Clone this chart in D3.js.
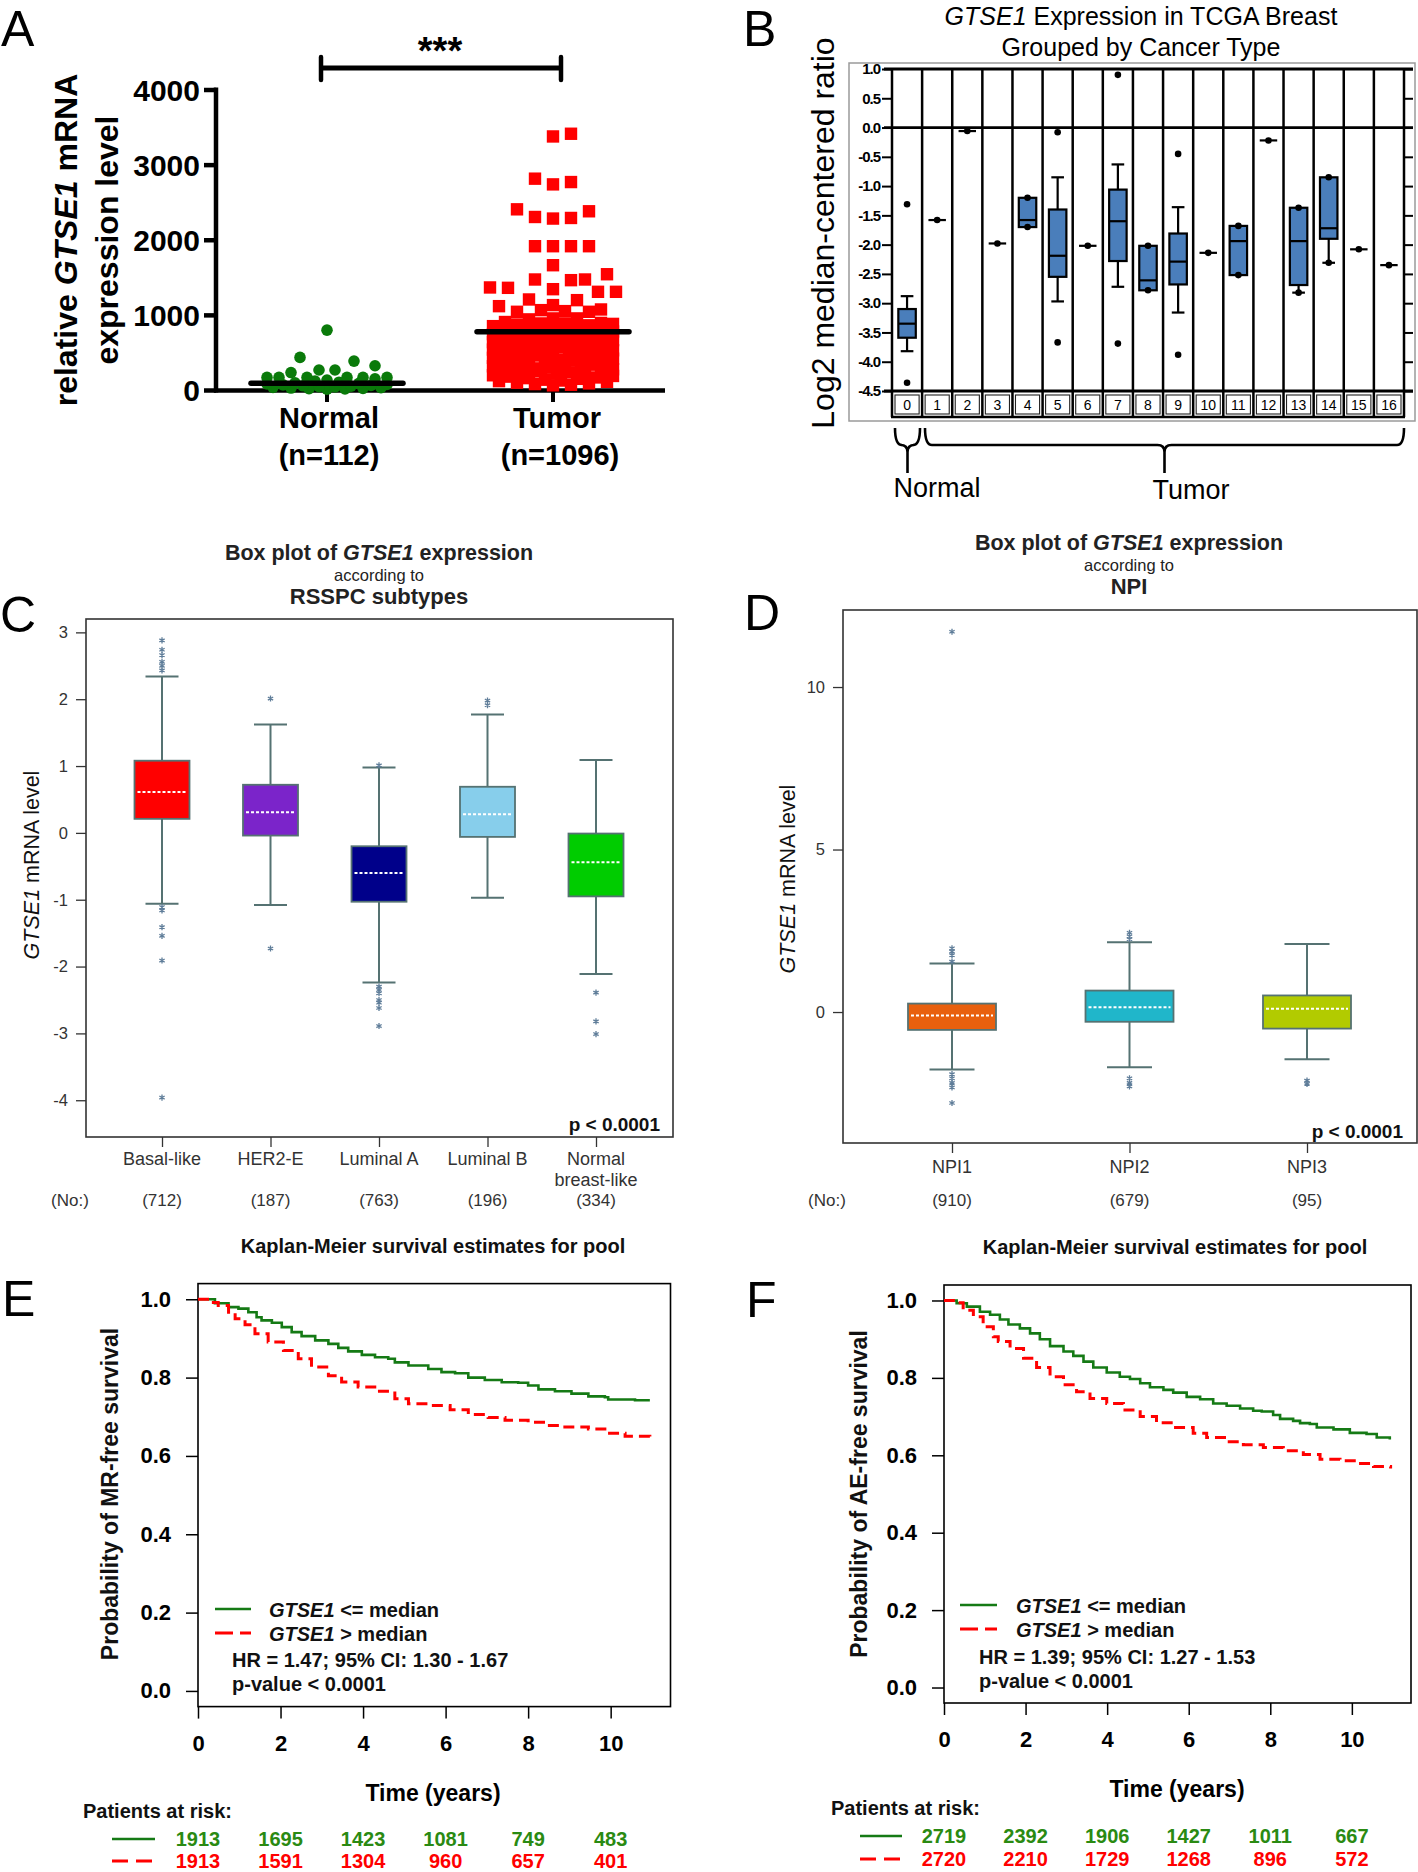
<!DOCTYPE html>
<html><head><meta charset="utf-8">
<script src="https://cdn.jsdelivr.net/npm/d3@7"></script>
<style>
body{margin:0;background:#fff}
svg{display:block}
text{font-family:"Liberation Sans", Arial, sans-serif}
</style>
</head><body>
<svg id="fig" width="1418" height="1872"></svg>
<script>
// ---------------- DATA ----------------
// Panel A
const aGroups = ["Normal", "Tumor"];
const aGroupN = ["(n=112)", "(n=1096)"];
const aTicks = [0, 1000, 2000, 3000, 4000];
const aMedians = [89, 775];
const normalValues = [797, 434, 385, 323, 266, 266, 232, 168, 168, 168, 168, 168, 168, 150, 132, 118, 104, 96, 88, 80, 74, 68, 62, 56, 50, 45, 40, 35, 30, 26, 22, 18, 14, 10];
const tumorValues = [3411, 3375, 2813, 2768, 2737, 2405, 2379, 2303, 2290, 2282, 1914, 1914, 1914, 1914, 1661, 1541, 1471, 1471, 1462, 1365, 1360, 1342, 1307, 1307, 1205, 1196, 1130, 1116, 1072, 1063, 1050, 1041, 1041, 953, 953, 940,
  905, 893, 886, 886, 880, 872, 861, 850, 842, 833, 826, 818, 805, 797, 786, 779, 768, 757, 744, 736, 725, 712, 704, 693, 688, 676, 664, 655, 648, 637, 626, 618, 606, 597, 589, 577, 568, 559, 547, 538, 529, 517, 506, 498, 489, 478, 470, 459, 447, 438, 429, 417, 405, 396, 388, 376, 367, 358, 346, 337, 328, 316, 305, 297, 288, 276, 265, 257, 248, 236, 225, 217, 208, 196, 187, 178, 167, 158, 149, 137, 126, 118, 109, 97, 88, 79, 70, 62];

// Panel B
const bCategories = ["0","1","2","3","4","5","6","7","8","9","10","11","12","13","14","15","16"];
const bTicks = [1.0, 0.5, 0.0, -0.5, -1.0, -1.5, -2.0, -2.5, -3.0, -3.5, -4.0, -4.5];
const bMin = [-3.82, -1.58, -0.06, -1.98, -1.70, -2.97, -2.02, -2.72, -2.78, -3.16, -2.14, -2.52, -0.22, -2.82, -2.31, -2.08, -2.35];
const bQ1  = [-3.59, -1.58, -0.06, -1.98, -1.70, -2.55, -2.02, -2.28, -2.78, -2.68, -2.14, -2.52, -0.22, -2.69, -1.90, -2.08, -2.35];
const bMed = [-3.35, -1.58, -0.06, -1.98, -1.58, -2.19, -2.02, -1.60, -2.61, -2.29, -2.14, -1.94, -0.22, -1.94, -1.72, -2.08, -2.35];
const bQ3  = [-3.10, -1.58, -0.06, -1.98, -1.20, -1.40, -2.02, -1.06, -2.02, -1.81, -2.14, -1.68, -0.22, -1.37, -0.85, -2.08, -2.35];
const bMax = [-2.88, -1.58, -0.06, -1.98, -1.20, -0.85, -2.02, -0.63, -2.02, -1.36, -2.14, -1.68, -0.22, -1.37, -0.85, -2.08, -2.35];
const bOutliers = [[-1.31, -4.36], [], [], [], [], [-0.08, -3.67], [], [0.90, -3.69], [], [-0.45, -3.88], [], [], [], [], [], [], []];
const bPoints = [[], [-1.58], [-0.06], [-1.98], [-1.20, -1.70], [], [-2.02], [], [-2.02, -2.78], [], [-2.14], [-1.68, -2.52], [-0.22], [-1.37, -2.82], [-0.85, -2.31], [-2.08], [-2.35]];

// Panel C
const cCategories = ["Basal-like", "HER2-E", "Luminal A", "Luminal B", "Normal breast-like"];
const cCounts = ["(712)", "(187)", "(763)", "(196)", "(334)"];
const cTicks = [-4, -3, -2, -1, 0, 1, 2, 3];
const cMin = [-1.06, -1.08, -2.24, -0.97, -2.11];
const cQ1  = [0.21, -0.04, -1.03, -0.06, -0.95];
const cMed = [0.61, 0.31, -0.60, 0.28, -0.44];
const cQ3  = [1.08, 0.72, -0.20, 0.69, -0.01];
const cMax = [2.34, 1.62, 0.98, 1.77, 1.09];
const cOutliers = [[2.88, 2.74, 2.66, 2.56, 2.50, 2.43, -1.11, -1.16, -1.41, -1.54, -1.91, -3.96], [2.01, -1.73], [1.01, -2.30, -2.35, -2.40, -2.50, -2.54, -2.62, -2.89], [1.98, 1.91], [-2.39, -2.82, -3.01]];
const cColors = ["#FF0000", "#7B24CA", "#00008A", "#87CEEB", "#00CC00"];

// Panel D
const dCategories = ["NPI1", "NPI2", "NPI3"];
const dCounts = ["(910)", "(679)", "(95)"];
const dTicks = [0, 5, 10];
const dMin = [-1.77, -1.70, -1.45];
const dQ1  = [-0.55, -0.30, -0.51];
const dMed = [-0.11, 0.15, 0.10];
const dQ3  = [0.26, 0.66, 0.51];
const dMax = [1.49, 2.15, 2.09];
const dOutliers = [[11.7, 1.96, 1.86, 1.75, 1.55, -1.91, -2.04, -2.18, -2.32, -2.80], [2.44, 2.33, 2.24, -2.04, -2.18, -2.29], [-2.11, -2.21]];
const dColors = ["#E8600E", "#20B6CA", "#B2CB00"];

// Panels E & F
const kmTicksX = [0, 2, 4, 6, 8, 10];
const kmTicksY = [0, 0.2, 0.4, 0.6, 0.8, 1.0];
const eGreenT = [0, 0.41, 0.74, 0.98, 1.22, 1.42, 1.54, 1.79, 2.03, 2.27, 2.51, 2.84, 3.16, 3.40, 3.64, 3.97, 4.29, 4.61, 4.77, 5.10, 5.58, 5.90, 6.23, 6.55, 6.95, 7.36, 7.76, 8.0, 8.25, 8.65, 9.05, 9.46, 9.86, 9.94, 10.59, 10.95];
const eGreenS = [1, 0.990, 0.980, 0.976, 0.967, 0.954, 0.946, 0.940, 0.929, 0.916, 0.906, 0.895, 0.886, 0.876, 0.867, 0.858, 0.852, 0.848, 0.839, 0.831, 0.822, 0.814, 0.811, 0.800, 0.794, 0.788, 0.787, 0.780, 0.770, 0.765, 0.759, 0.752, 0.750, 0.744, 0.742, 0.742];
const eRedT = [0, 0.33, 0.49, 0.74, 0.90, 1.14, 1.38, 1.70, 2.07, 2.43, 2.75, 3.16, 3.48, 3.88, 4.33, 4.77, 5.10, 5.66, 6.11, 6.55, 7.03, 7.44, 8.0, 8.41, 8.89, 9.46, 9.90, 10.35, 10.95];
const eRedS = [1, 0.992, 0.984, 0.967, 0.950, 0.935, 0.912, 0.891, 0.869, 0.848, 0.827, 0.805, 0.789, 0.776, 0.765, 0.746, 0.733, 0.729, 0.718, 0.706, 0.698, 0.691, 0.686, 0.678, 0.674, 0.669, 0.658, 0.650, 0.648];
const eRiskGreen = [1913, 1695, 1423, 1081, 749, 483];
const eRiskRed = [1913, 1591, 1304, 960, 657, 401];
const eStats = ["HR = 1.47; 95% CI: 1.30 - 1.67", "p-value < 0.0001"];
const fGreenT = [0, 0.31, 0.56, 0.88, 1.13, 1.37, 1.58, 1.86, 2.11, 2.35, 2.60, 2.93, 3.17, 3.42, 3.66, 3.99, 4.31, 4.56, 4.81, 5.05, 5.38, 5.62, 5.95, 6.28, 6.60, 6.93, 7.26, 7.58, 7.79, 8.07, 8.24, 8.56, 8.73, 8.97, 9.14, 9.55, 9.95, 10.36, 10.61, 10.93];
const fGreenS = [1, 0.993, 0.984, 0.971, 0.963, 0.951, 0.938, 0.928, 0.915, 0.900, 0.882, 0.868, 0.857, 0.842, 0.827, 0.814, 0.803, 0.797, 0.786, 0.776, 0.769, 0.762, 0.751, 0.745, 0.734, 0.728, 0.721, 0.715, 0.713, 0.704, 0.694, 0.689, 0.683, 0.681, 0.672, 0.667, 0.658, 0.655, 0.646, 0.641];
const fRedT = [0, 0.23, 0.47, 0.72, 0.96, 1.21, 1.33, 1.62, 1.95, 2.27, 2.60, 2.93, 3.25, 3.58, 3.99, 4.40, 4.81, 5.21, 5.62, 6.11, 6.44, 6.93, 7.34, 7.83, 8.32, 8.81, 9.22, 9.71, 10.12, 10.53, 10.95];
const fRedS = [1, 0.994, 0.975, 0.958, 0.932, 0.906, 0.894, 0.876, 0.851, 0.827, 0.803, 0.782, 0.764, 0.747, 0.734, 0.717, 0.700, 0.684, 0.672, 0.657, 0.646, 0.635, 0.627, 0.620, 0.612, 0.602, 0.590, 0.586, 0.579, 0.571, 0.566];
const fRiskGreen = [2719, 2392, 1906, 1427, 1011, 667];
const fRiskRed = [2720, 2210, 1729, 1268, 896, 572];
const fStats = ["HR = 1.39; 95% CI: 1.27 - 1.53", "p-value < 0.0001"];

// ---------------- DRAWING ----------------
const svg = d3.select("#fig");
svg.append("rect").attr("width", 1418).attr("height", 1872).attr("fill", "#fff");
const SANS = '"Liberation Sans", Arial, sans-serif';
const SERIF = '"Liberation Serif", "DejaVu Serif", serif';
const LATO = 'Lato, "Open Sans", sans-serif';

function rich(g, x, y, parts, opts) {
  const t = g.append("text").attr("x", x).attr("y", y)
    .attr("text-anchor", opts.anchor || "middle")
    .attr("font-size", opts.size).attr("font-weight", opts.weight || "normal")
    .attr("fill", opts.fill || "#000").attr("font-family", opts.family || SANS);
  if (opts.transform) t.attr("transform", opts.transform);
  if (opts.dy) t.attr("dy", opts.dy);
  parts.forEach(p => t.append("tspan").text(p[0]).attr("font-style", p[1] ? "italic" : "normal"));
  return t;
}
function label(txt, x, y) {
  svg.append("text").attr("x", x).attr("y", y).text(txt)
    .attr("font-size", 50).attr("font-family", SANS).attr("fill", "#000");
}
label("A", 1, 46); label("B", 743, 46); label("C", 0, 632); label("D", 744, 630); label("E", 2, 1316); label("F", 746, 1317);

// ===== Panel A =====
(function () {
  const g = svg.append("g");
  const y = d3.scaleLinear().domain([0, 4000]).range([390, 89.5]);
  const x = d3.scalePoint().domain(aGroups).range([327, 553]);
  const ax = g.append("g").attr("transform", "translate(216,0)")
    .call(d3.axisLeft(y).tickValues(aTicks).tickSize(12).tickPadding(4).tickFormat(d3.format("d")));
  ax.select(".domain").remove();
  ax.selectAll(".tick line").attr("stroke", "#000").attr("stroke-width", 4.5);
  ax.selectAll(".tick text").attr("font-size", 30).attr("font-weight", "bold").attr("fill", "#000").attr("font-family", SANS).attr("dy", "0.36em");
  g.append("line").attr("x1", 216).attr("x2", 216).attr("y1", 87.5).attr("y2", 392.5).attr("stroke", "#000").attr("stroke-width", 4.5);
  g.append("line").attr("x1", 214).attr("x2", 665).attr("y1", 390.5).attr("y2", 390.5).attr("stroke", "#000").attr("stroke-width", 4.5);
  aGroups.forEach(d => g.append("line").attr("x1", x(d)).attr("x2", x(d)).attr("y1", 390).attr("y2", 402).attr("stroke", "#000").attr("stroke-width", 4));

  function swarm(values, cx, half) {
    const placed = [];
    const sorted = values.slice().sort((a, b) => a - b);
    const offs = [0];
    for (let k = 9; k <= half; k += 9) offs.push(k, -k);
    const fine = [0];
    for (let k = 4; k <= half; k += 4) fine.push(k, -k);
    sorted.forEach(v => {
      const yy = y(v);
      let ch = null;
      for (const o of offs) {
        if (placed.every(p => Math.abs(p.x - (cx + o)) >= 16 || Math.abs(p.y - yy) >= 15)) { ch = o; break; }
      }
      if (ch === null) {
        let best = Infinity;
        for (const o of fine) {
          let cost = 0;
          placed.forEach(p => {
            const dx = Math.abs(p.x - (cx + o)), dy = Math.abs(p.y - yy);
            if (dx < 12 && dy < 12) cost += (12 - dx) * (12 - dy);
          });
          if (cost < best - 1e-6) { best = cost; ch = o; }
        }
      }
      placed.push({ v, x: cx + ch, y: yy });
    });
    return placed;
  }
  const np = swarm(normalValues, x("Normal"), 63);
  g.selectAll(".np").data(np).enter().append("circle").attr("cx", d => d.x).attr("cy", d => d.y).attr("r", 5.8).attr("fill", "#0A7A0A");
  const tp = swarm(tumorValues, x("Tumor"), 63);
  g.selectAll(".tp").data(tp).enter().append("rect").attr("x", d => d.x - 6.2).attr("y", d => d.y - 6.2).attr("width", 12.4).attr("height", 12.4).attr("fill", "#FF0000");
  aGroups.forEach((d, i) => {
    g.append("line").attr("x1", x(d) - 76).attr("x2", x(d) + 76).attr("y1", y(aMedians[i])).attr("y2", y(aMedians[i]))
      .attr("stroke", "#000").attr("stroke-width", 5.5).attr("stroke-linecap", "round");
    g.append("text").attr("x", x(d) + (i ? 4 : 2)).attr("y", 428).attr("text-anchor", "middle").text(d)
      .attr("font-size", 29).attr("font-weight", "bold");
    g.append("text").attr("x", x(d) + (i ? 7 : 2)).attr("y", 465).attr("text-anchor", "middle").text(aGroupN[i])
      .attr("font-size", 29).attr("font-weight", "bold");
  });
  const x1 = 321, x2 = 561;
  g.append("line").attr("x1", x1).attr("x2", x2).attr("y1", 68).attr("y2", 68).attr("stroke", "#000").attr("stroke-width", 5);
  [x1, x2].forEach(xx => g.append("line").attr("x1", xx).attr("x2", xx).attr("y1", 57).attr("y2", 80).attr("stroke", "#000").attr("stroke-width", 4.5).attr("stroke-linecap", "round"));
  g.append("text").attr("x", 440).attr("y", 64).attr("text-anchor", "middle").text("***").attr("font-size", 38).attr("font-weight", "bold");
  rich(g, 66, 240, [["relative ", false], ["GTSE1", true], [" mRNA", false]], { size: 32, weight: "bold", transform: "rotate(-90,66,240)", dy: "0.35em" });
  rich(g, 107, 240, [["expression level", false]], { size: 32, weight: "bold", transform: "rotate(-90,107,240)", dy: "0.35em" });
})();

// ===== Panel B =====
(function () {
  const g = svg.append("g");
  const y = d3.scaleLinear().domain([-4.5, 1.0]).range([391, 69]);
  const x = d3.scaleBand().domain(bCategories).range([892, 1404]);
  const bw = x.bandwidth();
  g.append("rect").attr("x", 849).attr("y", 63).attr("width", 566).attr("height", 358).attr("fill", "none").attr("stroke", "#9a9a9a").attr("stroke-width", 1.5);
  rich(g, 1141, 25, [["GTSE1", true], [" Expression in TCGA Breast", false]], { size: 25, family: LATO });
  rich(g, 1141, 56, [["Grouped by Cancer Type", false]], { size: 25, family: LATO });
  rich(g, 823, 233, [["Log2 median-centered ratio", false]], { size: 32, transform: "rotate(-90,823,233)", dy: "0.35em" });
  const ax = g.append("g").attr("transform", "translate(892,0)")
    .call(d3.axisLeft(y).tickValues(bTicks).tickSize(10).tickPadding(2).tickFormat(d => d.toFixed(1)));
  ax.select(".domain").remove();
  ax.selectAll(".tick line").attr("stroke", "#000").attr("stroke-width", 2);
  ax.selectAll(".tick text").attr("font-size", 15).attr("font-weight", "bold").attr("fill", "#000").attr("font-family", SERIF).attr("letter-spacing", "-1");
  const ax2 = g.append("g").attr("transform", "translate(1404,0)")
    .call(d3.axisRight(y).tickValues(bTicks).tickSize(9).tickFormat(""));
  ax2.select(".domain").remove();
  ax2.selectAll(".tick line").attr("stroke", "#000").attr("stroke-width", 2);
  [1.0, 0.0, -4.5].forEach(v => g.append("line").attr("x1", 884).attr("x2", 1413).attr("y1", y(v)).attr("y2", y(v)).attr("stroke", "#000").attr("stroke-width", 2.8));
  bCategories.forEach(c => {
    g.append("rect").attr("x", x(c) + 3).attr("y", 395).attr("width", bw - 6).attr("height", 19).attr("fill", "#fff").attr("stroke", "#222").attr("stroke-width", 1.1);
    g.append("text").attr("x", x(c) + bw / 2).attr("y", 410).attr("text-anchor", "middle").text(c).attr("font-size", 14).attr("font-family", SERIF);
  });
  g.append("line").attr("x1", 891).attr("x2", 1405).attr("y1", 417).attr("y2", 417).attr("stroke", "#000").attr("stroke-width", 2.5);
  for (let i = 0; i <= bCategories.length; i++) {
    const xx = 892 + i * bw;
    g.append("line").attr("x1", xx).attr("x2", xx).attr("y1", 69).attr("y2", 417).attr("stroke", "#000").attr("stroke-width", 2.5);
  }
  const boxW = bw * 0.58, capW = bw * 0.42;
  bCategories.forEach((c, i) => {
    const cx = x(c) + bw / 2;
    const ln = (x1, x2, y1, y2) => g.append("line").attr("x1", x1).attr("x2", x2).attr("y1", y1).attr("y2", y2).attr("stroke", "#000").attr("stroke-width", 2.2);
    if (bMax[i] > bQ3[i]) { ln(cx, cx, y(bMax[i]), y(bQ3[i])); ln(cx - capW / 2, cx + capW / 2, y(bMax[i]), y(bMax[i])); }
    if (bMin[i] < bQ1[i]) { ln(cx, cx, y(bQ1[i]), y(bMin[i])); ln(cx - capW / 2, cx + capW / 2, y(bMin[i]), y(bMin[i])); }
    if (bQ3[i] > bQ1[i]) {
      g.append("rect").attr("x", cx - boxW / 2).attr("y", y(bQ3[i])).attr("width", boxW).attr("height", y(bQ1[i]) - y(bQ3[i]))
        .attr("fill", "#4A7EBB").attr("stroke", "#000").attr("stroke-width", 2.2);
    }
    ln(cx - boxW / 2, cx + boxW / 2, y(bMed[i]), y(bMed[i]));
    bOutliers[i].concat(bPoints[i]).forEach(v => g.append("circle").attr("cx", cx).attr("cy", y(v)).attr("r", 3.3).attr("fill", "#000"));
  });
  function brace(x1, x2, y0, y1, y2) {
    const xm = (x1 + x2) / 2, r = 7;
    const p = `M${x1},${y0} Q${x1},${y1} ${x1 + r},${y1} L${xm - r},${y1} Q${xm},${y1} ${xm},${y1 + r} L${xm},${y2} M${xm},${y1 + r} Q${xm},${y1} ${xm + r},${y1} L${x2 - r},${y1} Q${x2},${y1} ${x2},${y0}`;
    g.append("path").attr("d", p).attr("fill", "none").attr("stroke", "#000").attr("stroke-width", 2.6);
  }
  brace(895, 920, 428, 445, 473);
  brace(925, 1404, 428, 445, 473);
  g.append("text").attr("x", 937).attr("y", 497).attr("text-anchor", "middle").text("Normal").attr("font-size", 27).attr("font-family", LATO);
  g.append("text").attr("x", 1191).attr("y", 499).attr("text-anchor", "middle").text("Tumor").attr("font-size", 27).attr("font-family", LATO);
})();

// ===== Box plots C & D =====
function boxPanel(cfg) {
  const g = svg.append("g");
  const y = d3.scaleLinear().domain(cfg.ydom).range([cfg.y1, cfg.y0]);
  const x = d3.scalePoint().domain(cfg.cats).range(cfg.xr);
  g.append("rect").attr("x", cfg.x0).attr("y", cfg.y0).attr("width", cfg.x1 - cfg.x0).attr("height", cfg.y1 - cfg.y0)
    .attr("fill", "none").attr("stroke", "#333").attr("stroke-width", 1.6);
  const ax = g.append("g").attr("transform", `translate(${cfg.x0},0)`)
    .call(d3.axisLeft(y).tickValues(cfg.ticks).tickSize(10).tickPadding(8).tickFormat(d => String(d)));
  ax.select(".domain").remove();
  ax.selectAll(".tick line").attr("stroke", "#333").attr("stroke-width", 1.3);
  ax.selectAll(".tick text").attr("font-size", 16.5).attr("fill", "#333").attr("font-family", SANS);
  const axb = g.append("g").attr("transform", `translate(0,${cfg.y1})`)
    .call(d3.axisBottom(x).tickSize(10).tickFormat(""));
  axb.select(".domain").remove();
  axb.selectAll(".tick line").attr("stroke", "#333").attr("stroke-width", 1.3);
  const wc = "#557272";
  cfg.cats.forEach((c, i) => {
    const cx = x(c);
    const ln = (x1, x2, y1, y2) => g.append("line").attr("x1", x1).attr("x2", x2).attr("y1", y1).attr("y2", y2).attr("stroke", wc).attr("stroke-width", 2);
    ln(cx, cx, y(cfg.max[i]), y(cfg.q3[i])); ln(cx, cx, y(cfg.q1[i]), y(cfg.min[i]));
    ln(cx - cfg.capW / 2, cx + cfg.capW / 2, y(cfg.max[i]), y(cfg.max[i]));
    ln(cx - cfg.capW / 2, cx + cfg.capW / 2, y(cfg.min[i]), y(cfg.min[i]));
    g.append("rect").attr("x", cx - cfg.boxW / 2).attr("y", y(cfg.q3[i])).attr("width", cfg.boxW).attr("height", y(cfg.q1[i]) - y(cfg.q3[i]))
      .attr("fill", cfg.colors[i]).attr("stroke", wc).attr("stroke-width", 1.8);
    g.append("line").attr("x1", cx - cfg.boxW / 2 + 3).attr("x2", cx + cfg.boxW / 2 - 3).attr("y1", y(cfg.med[i])).attr("y2", y(cfg.med[i]))
      .attr("stroke", "#fff").attr("stroke-width", 2).attr("stroke-dasharray", "3,2");
    cfg.out[i].forEach(v => g.append("path").attr("d", d3.symbol(d3.symbolAsterisk, 26)()).attr("transform", `translate(${cx},${y(v)})`)
      .attr("fill", "none").attr("stroke", "#5f7d99").attr("stroke-width", 1.3));
    const lab = cfg.labels[i];
    if (lab.startsWith("Normal ")) {
      g.append("text").attr("x", cx).attr("y", cfg.labY).attr("text-anchor", "middle").text("Normal").attr("font-size", 18).attr("fill", "#333");
      g.append("text").attr("x", cx).attr("y", cfg.labY + 21).attr("text-anchor", "middle").text("breast-like").attr("font-size", 18).attr("fill", "#333");
    } else {
      g.append("text").attr("x", cx).attr("y", cfg.labY).attr("text-anchor", "middle").text(lab).attr("font-size", 18).attr("fill", "#333");
    }
    g.append("text").attr("x", cx).attr("y", cfg.cntY).attr("text-anchor", "middle").text(cfg.counts[i]).attr("font-size", 17).attr("fill", "#333");
  });
  g.append("text").attr("x", cfg.noX).attr("y", cfg.cntY).attr("text-anchor", "middle").text("(No:)").attr("font-size", 17).attr("fill", "#333");
  g.append("text").attr("x", cfg.pX).attr("y", cfg.pY).attr("text-anchor", "end").text("p < 0.0001").attr("font-size", 19).attr("font-weight", "bold").attr("fill", "#111");
  rich(g, cfg.tX, cfg.tY[0], [["Box plot of ", false], ["GTSE1", true], [" expression", false]], { size: 21.5, weight: "bold", fill: "#222" });
  rich(g, cfg.tX, cfg.tY[1], [["according to", false]], { size: 16.5, fill: "#222" });
  rich(g, cfg.tX, cfg.tY[2], [[cfg.sub, false]], { size: 22, weight: "bold", fill: "#222" });
  rich(g, cfg.yTx, cfg.yTy, [["GTSE1", true], [" mRNA level", false]], { size: 21.5, fill: "#111", transform: `rotate(-90,${cfg.yTx},${cfg.yTy})`, dy: "0.35em" });
}
boxPanel({ cats: cCategories, labels: cCategories, counts: cCounts, ticks: cTicks, ydom: [-4.55, 3.2], x0: 86, x1: 673, y0: 619, y1: 1137,
  xr: [162, 596], boxW: 55, capW: 33, colors: cColors, min: cMin, q1: cQ1, med: cMed, q3: cQ3, max: cMax, out: cOutliers,
  labY: 1165, cntY: 1206, noX: 70, pX: 660, pY: 1131, tX: 379, tY: [560, 581, 604], sub: "RSSPC subtypes", yTx: 31, yTy: 865 });
boxPanel({ cats: dCategories, labels: dCategories, counts: dCounts, ticks: dTicks, ydom: [-4.03, 12.37], x0: 843, x1: 1417, y0: 610, y1: 1143,
  xr: [952, 1307], boxW: 88, capW: 45, colors: dColors, min: dMin, q1: dQ1, med: dMed, q3: dQ3, max: dMax, out: dOutliers,
  labY: 1173, cntY: 1206, noX: 827, pX: 1403, pY: 1138, tX: 1129, tY: [550, 571, 594], sub: "NPI", yTx: 787, yTy: 879 });

// ===== KM panels =====
function kmPanel(cfg) {
  const g = svg.append("g");
  const x = d3.scaleLinear().domain([0, 11.45]).range([cfg.x0, cfg.x1]);
  const y = d3.scaleLinear().domain([-0.04, 1.04]).range([cfg.y1, cfg.y0]);
  g.append("rect").attr("x", cfg.x0).attr("y", cfg.y0).attr("width", cfg.x1 - cfg.x0).attr("height", cfg.y1 - cfg.y0)
    .attr("fill", "none").attr("stroke", "#000").attr("stroke-width", 1.6);
  const ay = g.append("g").attr("transform", `translate(${cfg.x0},0)`)
    .call(d3.axisLeft(y).tickValues(kmTicksY).tickSize(12).tickPadding(15).tickFormat(d3.format(".1f")));
  ay.select(".domain").remove();
  ay.selectAll(".tick line").attr("stroke", "#000").attr("stroke-width", 1.5);
  ay.selectAll(".tick text").attr("font-size", 22).attr("font-weight", "bold").attr("fill", "#000").attr("font-family", SANS);
  const axx = g.append("g").attr("transform", `translate(0,${cfg.y1})`)
    .call(d3.axisBottom(x).tickValues(kmTicksX).tickSize(12).tickPadding(16.5).tickFormat(d3.format("d")));
  axx.select(".domain").remove();
  axx.selectAll(".tick line").attr("stroke", "#000").attr("stroke-width", 1.5);
  axx.selectAll(".tick text").attr("font-size", 22).attr("font-weight", "bold").attr("fill", "#000").attr("font-family", SANS);
  const line = d3.line().x(d => x(d[0])).y(d => y(d[1])).curve(d3.curveStepAfter);
  g.append("path").attr("d", line(cfg.gT.map((t, i) => [t, cfg.gS[i]]))).attr("fill", "none").attr("stroke", "#157A15").attr("stroke-width", 2.6);
  g.append("path").attr("d", line(cfg.rT.map((t, i) => [t, cfg.rS[i]]))).attr("fill", "none").attr("stroke", "#FF0000").attr("stroke-width", 3).attr("stroke-dasharray", "11,6");
  g.append("text").attr("x", cfg.tX).attr("y", cfg.tY).attr("text-anchor", "middle").text("Kaplan-Meier survival estimates for pool").attr("font-size", 20).attr("font-weight", "bold").attr("fill", "#111");
  g.append("text").attr("x", cfg.timeX).attr("y", cfg.timeY).attr("text-anchor", "middle").text("Time (years)").attr("font-size", 23).attr("font-weight", "bold");
  rich(g, cfg.yTx, cfg.yTy, [[cfg.yTitle, false]], { size: 23, weight: "bold", fill: "#111", transform: `rotate(-90,${cfg.yTx},${cfg.yTy})`, dy: "0.35em" });
  const L = cfg.leg;
  g.append("line").attr("x1", L.lx0).attr("x2", L.lx1).attr("y1", L.gy).attr("y2", L.gy).attr("stroke", "#157A15").attr("stroke-width", 2.6);
  g.append("line").attr("x1", L.lx0).attr("x2", L.lx1).attr("y1", L.ry).attr("y2", L.ry).attr("stroke", "#FF0000").attr("stroke-width", 3).attr("stroke-dasharray", "18,7");
  rich(g, L.tx, L.gy + 8, [["GTSE1", true], [" <= median", false]], { size: 20, weight: "bold", anchor: "start", fill: "#111" });
  rich(g, L.tx, L.ry + 8, [["GTSE1", true], [" > median", false]], { size: 20, weight: "bold", anchor: "start", fill: "#111" });
  g.append("text").attr("x", L.hx).attr("y", L.hy).text(cfg.stats[0]).attr("font-size", 20).attr("font-weight", "bold").attr("fill", "#111");
  g.append("text").attr("x", L.hx).attr("y", L.hy + 24).text(cfg.stats[1]).attr("font-size", 20).attr("font-weight", "bold").attr("fill", "#111");
  const R = cfg.risk;
  g.append("text").attr("x", R.px).attr("y", R.py).text("Patients at risk:").attr("font-size", 20).attr("font-weight", "bold").attr("fill", "#111");
  g.append("line").attr("x1", R.lx0).attr("x2", R.lx1).attr("y1", R.gy - 7).attr("y2", R.gy - 7).attr("stroke", "#157A15").attr("stroke-width", 2.6);
  g.append("line").attr("x1", R.lx0).attr("x2", R.lx1).attr("y1", R.ry - 7).attr("y2", R.ry - 7).attr("stroke", "#FF0000").attr("stroke-width", 3).attr("stroke-dasharray", "16,8");
  kmTicksX.forEach((t, i) => {
    g.append("text").attr("x", x(t)).attr("y", R.gy).attr("text-anchor", "middle").text(cfg.rg[i]).attr("font-size", 20).attr("font-weight", "bold").attr("fill", "#2A8A12");
    g.append("text").attr("x", x(t)).attr("y", R.ry).attr("text-anchor", "middle").text(cfg.rr[i]).attr("font-size", 20).attr("font-weight", "bold").attr("fill", "#FF0000");
  });
}
kmPanel({ x0: 198, x1: 670.5, y0: 1283.6, y1: 1706.6, gT: eGreenT, gS: eGreenS, rT: eRedT, rS: eRedS,
  tX: 433, tY: 1253, timeX: 433, timeY: 1801, yTx: 110, yTy: 1494, yTitle: "Probability of MR-free survival", stats: eStats,
  leg: { lx0: 215, lx1: 251, gy: 1609, ry: 1633, tx: 269, hx: 232, hy: 1667 },
  risk: { px: 83, py: 1818, lx0: 112, lx1: 155, gy: 1846, ry: 1868 }, rg: eRiskGreen, rr: eRiskRed });
kmPanel({ x0: 944, x1: 1411, y0: 1285, y1: 1703, gT: fGreenT, gS: fGreenS, rT: fRedT, rS: fRedS,
  tX: 1175, tY: 1254, timeX: 1177, timeY: 1797, yTx: 859, yTy: 1494, yTitle: "Probability of AE-free survival", stats: fStats,
  leg: { lx0: 960, lx1: 997, gy: 1605, ry: 1629, tx: 1016, hx: 979, hy: 1664 },
  risk: { px: 831, py: 1815, lx0: 860, lx1: 902, gy: 1843, ry: 1866 }, rg: fRiskGreen, rr: fRiskRed });
</script>
</body></html>
